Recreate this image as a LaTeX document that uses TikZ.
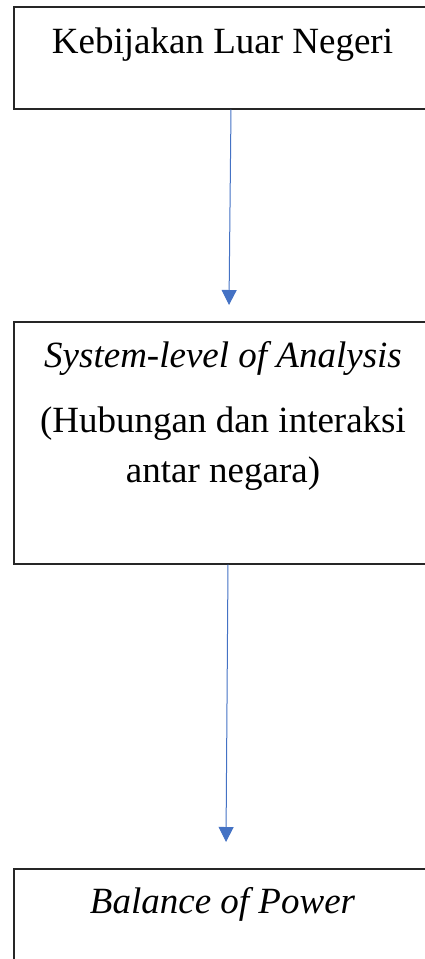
\documentclass[tikz,border=0pt]{standalone}
\usepackage{fontspec}
\setmainfont{Liberation Serif}
\usetikzlibrary{arrows.meta}
\definecolor{linkblue}{HTML}{4472C4}

\begin{document}
\begin{tikzpicture}[x=1pt,y=-1pt,
    box/.style={draw=black!85, line width=1.5pt, inner sep=0pt, anchor=north west, minimum width=418pt},
    label/.style={anchor=base, font=\fontsize{37}{44}\selectfont},
    link/.style={draw=linkblue, line width=1pt, -{Triangle[length=15pt,width=15pt]}}]
    \useasboundingbox (0,0) rectangle (424,959);

    % Boxes
    \node[box, minimum height=102pt] (kebijakan) at (13,6) {};
    \node[box, minimum height=242pt] (sistem) at (13,321) {};
    \node[box, minimum height=150pt] (balance) at (13,868) {};

    % Texts
    \node[label] (t1) at (222.5,53) {Kebijakan Luar Negeri};
    \node[label] (t2) at (223,367) {\itshape System-level of Analysis};
    \node[label] (t3) at (223,432) {(Hubungan dan interaksi};
    \node[label] (t4) at (223,482) {antar negara)};
    \node[label] (t5) at (222.5,913) {\itshape Balance of Power};

    % Arrow ends
    \coordinate (tip1) at (229,305);
    \coordinate (tip2) at (226,842);

    % Arrows
    \draw[link] (kebijakan.south -| 231,0) -- (tip1);
    \draw[link] (sistem.south -| 228,0) -- (tip2);
\end{tikzpicture}
\end{document}
